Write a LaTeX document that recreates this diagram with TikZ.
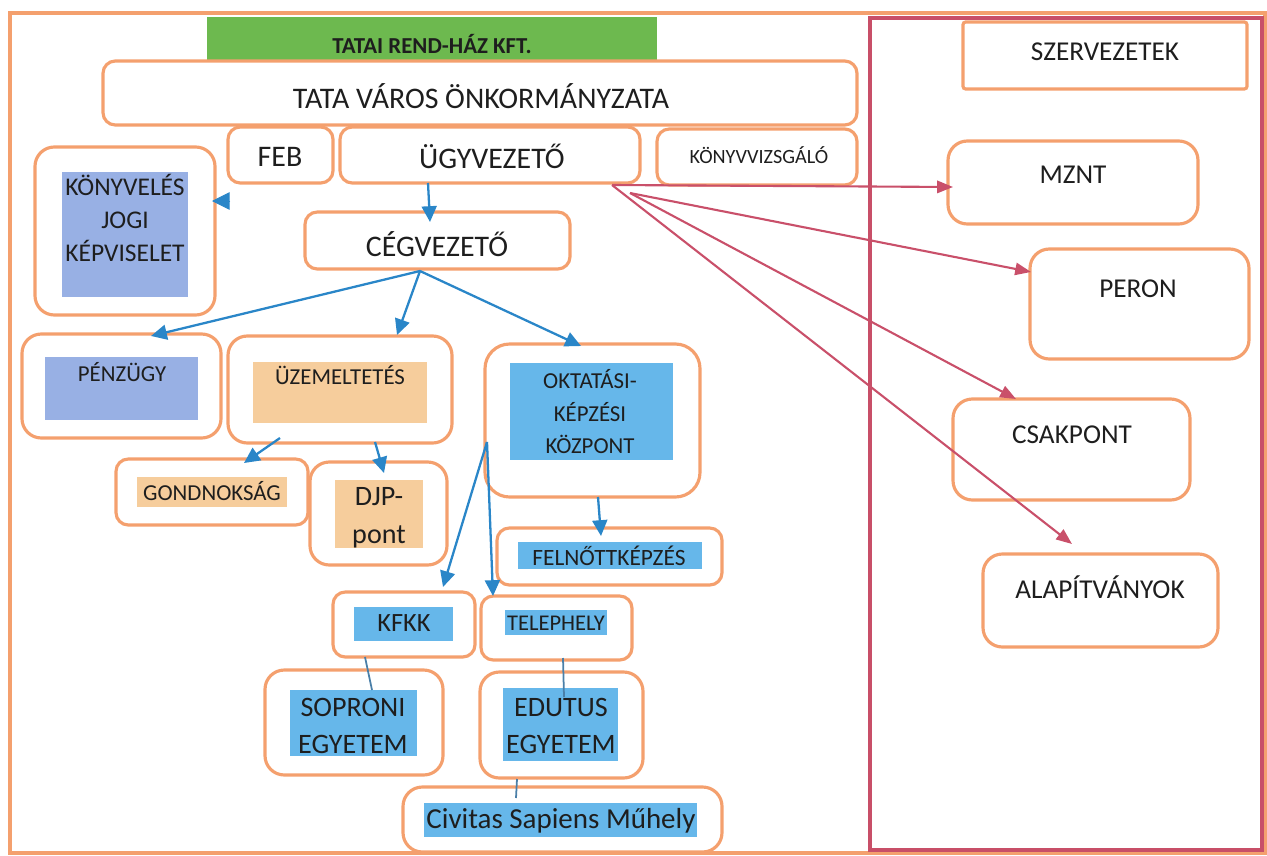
\documentclass[tikz,border=0pt]{standalone}
\usepackage{fontspec}
\setmainfont{Carlito}
\usetikzlibrary{arrows.meta,fit}
\definecolor{obord}{HTML}{F4A06E}
\definecolor{rbord}{HTML}{C84F68}
\definecolor{gfill}{HTML}{6DB94F}
\definecolor{pblue}{HTML}{98B0E4}
\definecolor{lblue}{HTML}{66B7EA}
\definecolor{tanf}{HTML}{F6CD9C}
\definecolor{barc}{HTML}{2A86C8}
\definecolor{rarc}{HTML}{C9506A}
\definecolor{txt}{HTML}{1E1E1E}
\definecolor{lnk}{HTML}{4A7FA8}
\begin{document}
\begin{tikzpicture}[x=0.02cm,y=-0.02cm,
  obox/.style={draw=obord,line width=1.8pt,rounded corners=7pt,inner sep=0pt},
  bigbox/.style={obox,rounded corners=11pt},
  fbox/.style={draw=none,inner sep=0pt},
  lbl/.style 2 args={text=txt,inner sep=0pt,align=center,font=\fontsize{#1}{#2}\selectfont},
  barrow/.style={draw=barc,line width=1.3pt,-{Triangle[length=9pt,width=8.5pt]}},
  tiponly/.style={draw=barc,fill=barc,line width=0.5pt,-{Triangle[length=10pt,width=10pt]}},
  rarrow/.style={draw=rarc,line width=1.2pt,-{Triangle[length=9pt,width=7pt]}},
  plink/.style={draw=lnk,line width=1pt}]
\useasboundingbox (0,0) rectangle (1267,855);
% frames
\node[draw=obord,line width=1.8pt,fit={(10,13)(1265,853)},inner sep=0pt] (outer) {};
\node[draw=rbord,line width=2pt,fit={(870,18)(1262,850)},inner sep=0pt] (panel) {};
% header
\node[fbox,fill=gfill,fit={(207,17)(657,60)}] (green) {};
\node[lbl={13}{15},font=\fontsize{13}{15}\selectfont\bfseries] (tgreen) at (432,44) {TATAI REND-HÁZ KFT.};
\node[obox,fit={(103,61)(857,125)}] (tata) {};
\node[lbl={17}{20}] (ttata) at (481,96) {TATA VÁROS ÖNKORMÁNYZATA};
\node[obox,fit={(228,127)(333,183)}] (feb) {};
\node[lbl={17}{20}] (tfeb) at (280,157) {FEB};
\node[obox,fit={(340,127)(640,183)}] (ugy) {};
\node[lbl={17}{20}] (tugy) at (492,156) {ÜGYVEZETŐ};
\node[obox,fit={(657,129)(857,185)}] (konyv) {};
\node[lbl={11.5}{14}] (tkonyv) at (759,155) {KÖNYVVIZSGÁLÓ};
% left column
\node[bigbox,fit={(35,147)(215,315)}] (jogi) {};
\node[fbox,fill=pblue,fit={(62,172)(188,297)}] (jogif) {};
\node[lbl={14.5}{18.7}] (tjogi) at (125,218) {KÖNYVELÉS\\JOGI\\KÉPVISELET};
\coordinate (jogitail) at (230,201);
\coordinate (jogitip) at (212,201);
\node[obox,fit={(305,212)(570,269)}] (ceg) {};
\node[lbl={17}{20}] (tceg) at (437,244) {CÉGVEZETŐ};
\node[bigbox,fit={(22,334)(221,438)}] (penz) {};
\node[fbox,fill=pblue,fit={(45,357)(198,420)}] (penzf) {};
\node[lbl={13}{15}] (tpenz) at (122,372) {PÉNZÜGY};
\node[bigbox,fit={(228,336)(452,443)}] (uzem) {};
\node[fbox,fill=tanf,fit={(253,362)(427,423)}] (uzemf) {};
\node[lbl={13}{15}] (tuzem) at (340,375) {ÜZEMELTETÉS};
\node[obox,fit={(116,459)(308,525)}] (gond) {};
\node[fbox,fill=tanf,fit={(137,477)(287,507)}] (gondf) {};
\node[lbl={13}{15}] (tgond) at (212,491) {GONDNOKSÁG};
\node[bigbox,fit={(310,462)(447,565)}] (djp) {};
\node[fbox,fill=tanf,fit={(335,480)(423,548)}] (djpf) {};
\node[lbl={16}{21.5}] (tdjp) at (379,518) {DJP-\\pont};
\node[bigbox,rounded corners=14pt,fit={(485,344)(700,497)}] (okt) {};
\node[fbox,fill=lblue,fit={(510,363)(673,460)}] (oktf) {};
\node[lbl={13}{18.5}] (tokt) at (590,412) {OKTATÁSI-\\KÉPZÉSI\\KÖZPONT};
\node[obox,fit={(497,528)(722,585)}] (feln) {};
\node[fbox,fill=lblue,fit={(518,542)(702,569)}] (felnf) {};
\node[lbl={13.3}{15}] (tfeln) at (609,556) {FELNŐTTKÉPZÉS};
\node[obox,fit={(333,592)(475,657)}] (kfkk) {};
\node[fbox,fill=lblue,fit={(354,607)(453,641)}] (kfkkf) {};
\node[lbl={15}{18}] (tkfkk) at (404,623) {KFKK};
\node[obox,fit={(481,596)(632,660)}] (tele) {};
\node[fbox,fill=lblue,fit={(505,610)(607,635)}] (telef) {};
\node[lbl={12.8}{14}] (ttele) at (556,623) {TELEPHELY};
\node[bigbox,fit={(265,670)(443,775)}] (sopr) {};
\node[fbox,fill=lblue,fit={(290,690)(417,756)}] (soprf) {};
\node[lbl={16}{21.5}] (tsopr) at (353,726) {SOPRONI\\EGYETEM};
\node[bigbox,fit={(480,672)(643,778)}] (edu) {};
\node[fbox,fill=lblue,fit={(503,688)(618,761)}] (eduf) {};
\node[lbl={16}{21.5}] (tedu) at (561,726) {EDUTUS\\EGYETEM};
\node[bigbox,fit={(403,787)(722,852)}] (civ) {};
\node[fbox,fill=lblue,fit={(424,803)(697,837)}] (civf) {};
\node[lbl={16.5}{20}] (tciv) at (561,821) {Civitas Sapiens Műhely};
% right panel
\node[draw=obord,line width=1.8pt,rounded corners=1.5pt,inner sep=0pt,fit={(963,22)(1247,89)}] (szerv) {};
\node[lbl={15.5}{18}] (tszerv) at (1105,52) {SZERVEZETEK};
\node[bigbox,fit={(948,141)(1198,224)}] (mznt) {};
\node[lbl={15.5}{18}] (tmznt) at (1073,175) {MZNT};
\node[bigbox,fit={(1030,249)(1249,359)}] (peron) {};
\node[lbl={15.5}{18}] (tperon) at (1138,289) {PERON};
\node[bigbox,fit={(953,399)(1190,500)}] (csak) {};
\node[lbl={15.5}{18}] (tcsak) at (1072,435) {CSAKPONT};
\node[bigbox,fit={(983,554)(1218,647)}] (alap) {};
\node[lbl={15.5}{18}] (talap) at (1100,587) {ALAPÍTVÁNYOK};
% connector points
\coordinate (ugyout) at (428,183);
\coordinate (cegin) at (430,222);
\coordinate (cegout) at (420,271);
\coordinate (penzin) at (151,336);
\coordinate (uzemin) at (397,335);
\coordinate (oktin) at (581,346);
\coordinate (uzemoutA) at (280,438);
\coordinate (gondin) at (244,463);
\coordinate (uzemoutB) at (375,442);
\coordinate (djpin) at (384,473);
\coordinate (oktout) at (598,497);
\coordinate (felnin) at (601,536);
\coordinate (oktleft) at (487,442);
\coordinate (kfkkin) at (443,587);
\coordinate (telein) at (493,596);
\coordinate (kfkkout) at (365,657);
\coordinate (soprin) at (372,690);
\coordinate (teleout) at (563,658);
\coordinate (eduin) at (564,697);
\coordinate (eduout) at (517,779);
\coordinate (civin) at (516,798);
\coordinate (ugyrA) at (612,185);
\coordinate (ugyrB) at (630,193);
\coordinate (mzntin) at (953,187);
\coordinate (peronin) at (1031,272);
\coordinate (csakin) at (1016,399);
\coordinate (alapin) at (1072,544);
% blue connectors
\draw[tiponly] (jogitail) -- (jogitip);
\draw[barrow] (ugyout) -- (cegin);
\draw[barrow] (cegout) -- (penzin);
\draw[barrow] (cegout) -- (uzemin);
\draw[barrow] (cegout) -- (oktin);
\draw[barrow] (uzemoutA) -- (gondin);
\draw[barrow] (uzemoutB) -- (djpin);
\draw[barrow] (oktout) -- (felnin);
\draw[barrow] (oktleft) -- (kfkkin);
\draw[barrow] (oktleft) -- (telein);
\draw[plink] (kfkkout) -- (soprin);
\draw[plink] (teleout) -- (eduin);
\draw[plink] (eduout) -- (civin);
% red connectors
\draw[rarrow] (ugyrA) -- (mzntin);
\draw[rarrow] (ugyrB) -- (peronin);
\draw[rarrow] (ugyrB) -- (csakin);
\draw[rarrow] (ugyrA) -- (alapin);
\end{tikzpicture}
\end{document}
